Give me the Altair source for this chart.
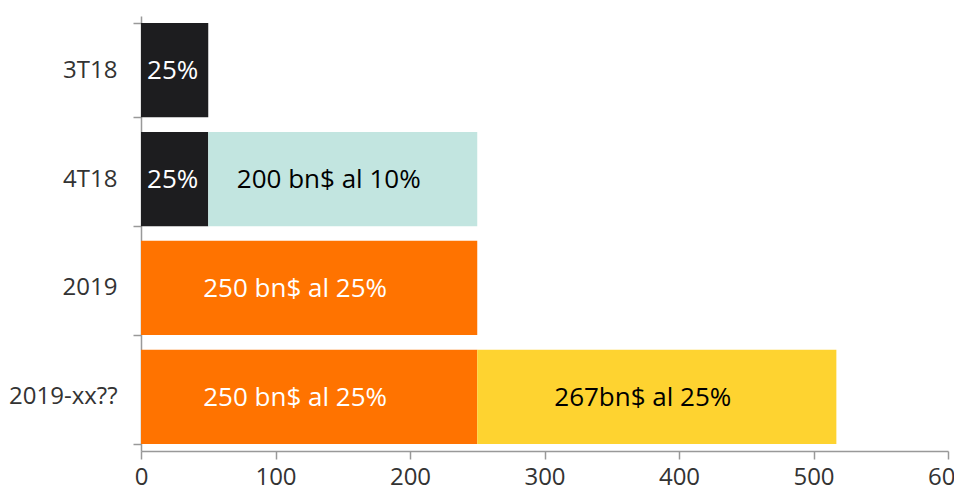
import altair as alt
import pandas as pd

categories = ["3T18", "4T18", "2019", "2019-xx??"]

bar_cat = ["3T18", "4T18", "4T18", "2019", "2019-xx??", "2019-xx??"]
bar_value = [50, 50, 200, 250, 250, 267]
bar_kind = ["a", "a", "b", "c", "c", "d"]
bar_label = ["25%", "25%", "200 bn$ al 10%", "250 bn$ al 25%", "250 bn$  al 25%", "267bn$ al 25%"]

kinds = ["a", "b", "c", "d"]
kind_colors = ["#1d1d1f", "#c2e5e0", "#ff7300", "#fed330"]
kind_text_colors = ["#ffffff", "#000000", "#ffffff", "#000000"]

df = pd.DataFrame({"cat": bar_cat, "value": bar_value, "kind": bar_kind, "label": bar_label})
df["x1"] = df.groupby("cat")["value"].cumsum()
df["x0"] = df["x1"] - df["value"]
df["mid"] = (df["x0"] + df["x1"]) / 2

FONT = "Open Sans"

y_enc = alt.Y(
    "cat:N",
    sort=categories,
    title=None,
    scale=alt.Scale(paddingInner=0.135, paddingOuter=0.065),
    axis=alt.Axis(
        tickBand="extent",
        grid=False,
        domainColor="#999999",
        tickColor="#999999",
        tickSize=8,
        labelFontSize=24,
        labelColor="#333333",
        labelPadding=16,
        labelFont=FONT,
        domainWidth=1.5,
        tickWidth=1.5,
    ),
)

x_scale = alt.Scale(domain=[0, 600], nice=False)

bars = alt.Chart(df).mark_bar().encode(
    y=y_enc,
    x=alt.X(
        "x0:Q",
        scale=x_scale,
        title=None,
        axis=alt.Axis(
            values=[0, 100, 200, 300, 400, 500, 600],
            grid=False,
            labelFlush=False,
            domainColor="#999999",
            tickColor="#999999",
            tickSize=8,
            labelFontSize=24,
            labelColor="#333333",
            labelPadding=6,
            labelFont=FONT,
            domainWidth=1.5,
            tickWidth=1.5,
        ),
    ),
    x2="x1:Q",
    color=alt.Color("kind:N", scale=alt.Scale(domain=kinds, range=kind_colors), legend=None),
)

def label_layer(dx, small):
    flt = alt.datum.kind == "a" if small else alt.datum.kind != "a"
    return alt.Chart(df).transform_filter(flt).mark_text(
        fontSize=26, font=FONT, dx=dx, dy=1, baseline="middle"
    ).encode(
        y=alt.Y("cat:N", sort=categories),
        x=alt.X("mid:Q", scale=x_scale),
        text="label:N",
        color=alt.Color("kind:N", scale=alt.Scale(domain=kinds, range=kind_text_colors), legend=None),
    )

texts_small = label_layer(-2, True)
texts_wide = label_layer(-14, False)

chart = (
    alt.layer(bars, texts_small, texts_wide)
    .resolve_scale(color="independent")
    .properties(
        width=807,
        height=435,
        autosize=alt.AutoSizeParams(type="none"),
        padding={"left": 133, "top": 8, "right": 6, "bottom": 38},
    )
    .configure(font=FONT)
    .configure_view(stroke=None, strokeWidth=0)
)

chart.save("out.html", embed_options={"renderer": "svg", "actions": False})
